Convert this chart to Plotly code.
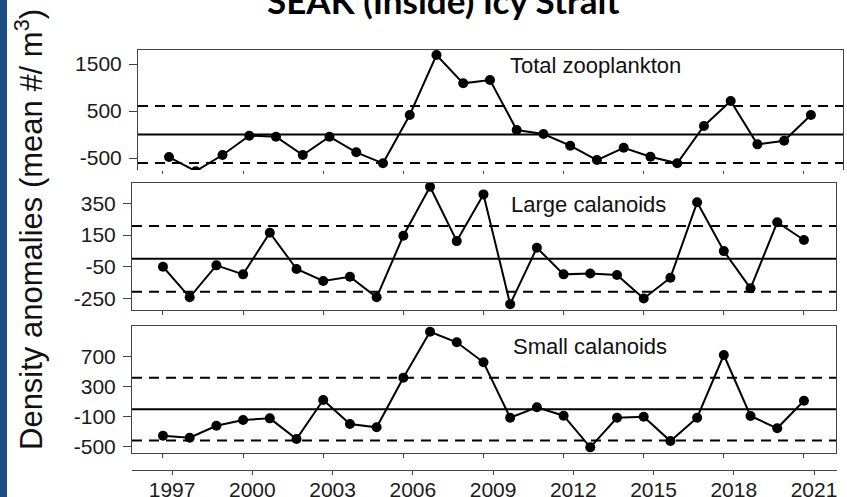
import plotly.graph_objects as go

W, H = 847, 497

years = list(range(1997, 2022))

total_zoo = [-479, -780, -436, -25, -47, -436, -47, -379, -613, 415,
             1691, 1089, 1160, 96, 11, -238, -543, -281, -472, -613,
             181, 713, -209, -132, 415]
large_cal = [-50, -243, -41, -98, 165, -64, -140, -113, -243, 146,
             455, 112, 407, -286, 70, -98, -92, -102, -250, -119,
             357, 49, -186, 231, 119]
small_cal = [-352, -379, -220, -144, -122, -396, 121, -197, -241, 416,
             1025, 885, 620, -114, 24, -87, -506, -114, -101, -423,
             -114, 717, -91, -254, 111]

sd_total = 606
sd_large = 207
sd_small = 417

panel_names = ["Total zooplankton", "Large calanoids", "Small calanoids"]
yticks_total = [-500, 500, 1500]
yticks_large = [-250, -50, 150, 350]
yticks_small = [-500, -100, 300, 700]
xticks = [1997, 2000, 2003, 2006, 2009, 2012, 2015, 2018, 2021]

title_text = "SEAK (Inside) Icy Strait"
ytitle_text = "Density anomalies (mean #/ m<sup>3</sup>)"


def px(x):
    return x / W


def py(y):
    return 1 - y / H


def lab(v):
    return [str(t) for t in v]  # plain hyphen minus as in the reference


FONT = "Liberation Sans, Arial, sans-serif"
LINEC = "#444444"
xr = [1995.84, 2022.2]

fig = go.Figure()

series = [total_zoo, large_cal, small_cal]
axn = ["", "2", "3"]
for i, vals in enumerate(series):
    fig.add_trace(go.Scatter(
        x=years, y=vals, mode="lines+markers",
        line=dict(color="black", width=2),
        marker=dict(color="black", size=10),
        xaxis="x" + axn[i], yaxis="y" + axn[i],
        showlegend=False, hoverinfo="skip"))

# invisible traces for auxiliary axes (tick remnants / bottom year axis)
for xa in ("x4", "x5", "x6"):
    fig.add_trace(go.Scatter(x=[years[0]], y=[0], mode="markers", marker=dict(opacity=0),
                             xaxis=xa, yaxis="y4", showlegend=False, hoverinfo="skip"))

tickfont = dict(family=FONT, size=21, color="#1a1a1a")

common_y = dict(showline=True, mirror=True, linecolor=LINEC, linewidth=1,
                ticks="outside", ticklen=8, tickcolor=LINEC, tickwidth=1,
                showgrid=False, zeroline=False, tickfont=tickfont, ticklabelstandoff=3,
                automargin=False)
common_x = dict(range=xr, tickvals=xticks, showticklabels=False, showgrid=False,
                zeroline=False, tickcolor=LINEC, tickwidth=1, automargin=False)

fig.update_layout(
    width=W, height=H,
    margin=dict(l=0, r=0, t=0, b=0, pad=0, autoexpand=False),
    paper_bgcolor="white", plot_bgcolor="white",
    # top panel (cropped at bottom)
    xaxis=dict(domain=[px(138), px(843)], anchor="y", side="top", showline=True,
               mirror=False, linecolor=LINEC, linewidth=1, ticks="", **common_x),
    yaxis=dict(domain=[py(170), py(50)], anchor="x", range=[-755, 1798],
               tickvals=yticks_total, ticktext=lab(yticks_total), **common_y),
    # middle panel
    xaxis2=dict(domain=[px(132), px(836)], anchor="y2", showline=True, mirror=True,
                linecolor=LINEC, linewidth=1, ticks="outside", ticklen=4, **common_x),
    yaxis2=dict(domain=[py(310), py(183)], anchor="x2", range=[-323, 479],
                tickvals=yticks_large, ticktext=lab(yticks_large), **common_y),
    # bottom panel
    xaxis3=dict(domain=[px(132), px(836)], anchor="y3", showline=True, mirror=True,
                linecolor=LINEC, linewidth=1, ticks="outside", ticklen=4, **common_x),
    yaxis3=dict(domain=[py(453), py(326)], anchor="x3", range=[-581, 1101],
                tickvals=yticks_small, ticktext=lab(yticks_small), **common_y),
    # hidden helper y axis
    yaxis4=dict(domain=[py(497), py(496)], anchor="x4", range=[0, 1], visible=False),
    # ticks left over under the cropped top panel
    xaxis4=dict(domain=[px(132), px(836)], anchor="free", position=py(170),
                showline=False, ticks="outside", ticklen=3, **common_x),
    # separate year axis at bottom: line and ticks
    xaxis5=dict(domain=[px(132), px(837)], anchor="free", position=py(470),
                range=[xr[0] - 0.34, xr[1] - 0.34], tickvals=xticks,
                showline=True, linecolor=LINEC, linewidth=1, ticks="outside", ticklen=4,
                tickcolor=LINEC, showgrid=False, zeroline=False, showticklabels=False,
                automargin=False),
    # separate year axis at bottom: labels
    xaxis6=dict(domain=[px(132), px(837)], anchor="free", position=py(475),
                range=[xr[0] - 0.34, xr[1] - 0.34], tickvals=xticks, ticktext=lab(xticks),
                showline=False, ticks="", showgrid=False, zeroline=False,
                showticklabels=True, tickfont=tickfont, ticklabelstandoff=0,
                automargin=False),
)

# reference lines
sds = [sd_total, sd_large, sd_small]
for i, sd in enumerate(sds):
    xa = "x" + axn[i] + " domain"
    ya = "y" + axn[i]
    fig.add_shape(type="line", xref=xa, yref=ya, x0=0, x1=1, y0=0, y1=0,
                  line=dict(color="black", width=2), layer="below")
    for s in (sd, -sd):
        fig.add_shape(type="line", xref=xa, yref=ya, x0=0, x1=1, y0=s, y1=s,
                      line=dict(color="black", width=2, dash="10px,7px"), layer="below")

# panel labels
label_y = [65.5, 204.7, 346.5]
label_x = [508, 509, 511]
for name, lx, ly in zip(panel_names, label_x, label_y):
    fig.add_annotation(text=name, xref="paper", yref="paper", x=px(lx), y=py(ly),
                       xanchor="left", yanchor="middle", showarrow=False,
                       font=dict(family=FONT, size=22, color="#111111"))

# title (cropped at top)
fig.add_annotation(text=f"<b>{title_text}</b>", xref="paper", yref="paper",
                   x=px(443), y=py(23), xanchor="center", yanchor="bottom", showarrow=False,
                   font=dict(family="Lato, Carlito, sans-serif", size=35, color="black"))

# y title
fig.add_annotation(text=ytitle_text, xref="paper", yref="paper", x=px(29), y=py(230),
                   xanchor="center", yanchor="middle", textangle=-90, showarrow=False,
                   font=dict(family=FONT, size=31, color="#111111"))

# left blue border
fig.add_shape(type="rect", xref="paper", yref="paper", x0=0, x1=px(7), y0=0, y1=1,
              fillcolor="#1f4e86", line=dict(width=0))

fig.write_html("out.html",
               config={"displayModeBar": False},
               post_script="document.body.style.margin='0px';"
                           "document.body.style.overflow='hidden';")
